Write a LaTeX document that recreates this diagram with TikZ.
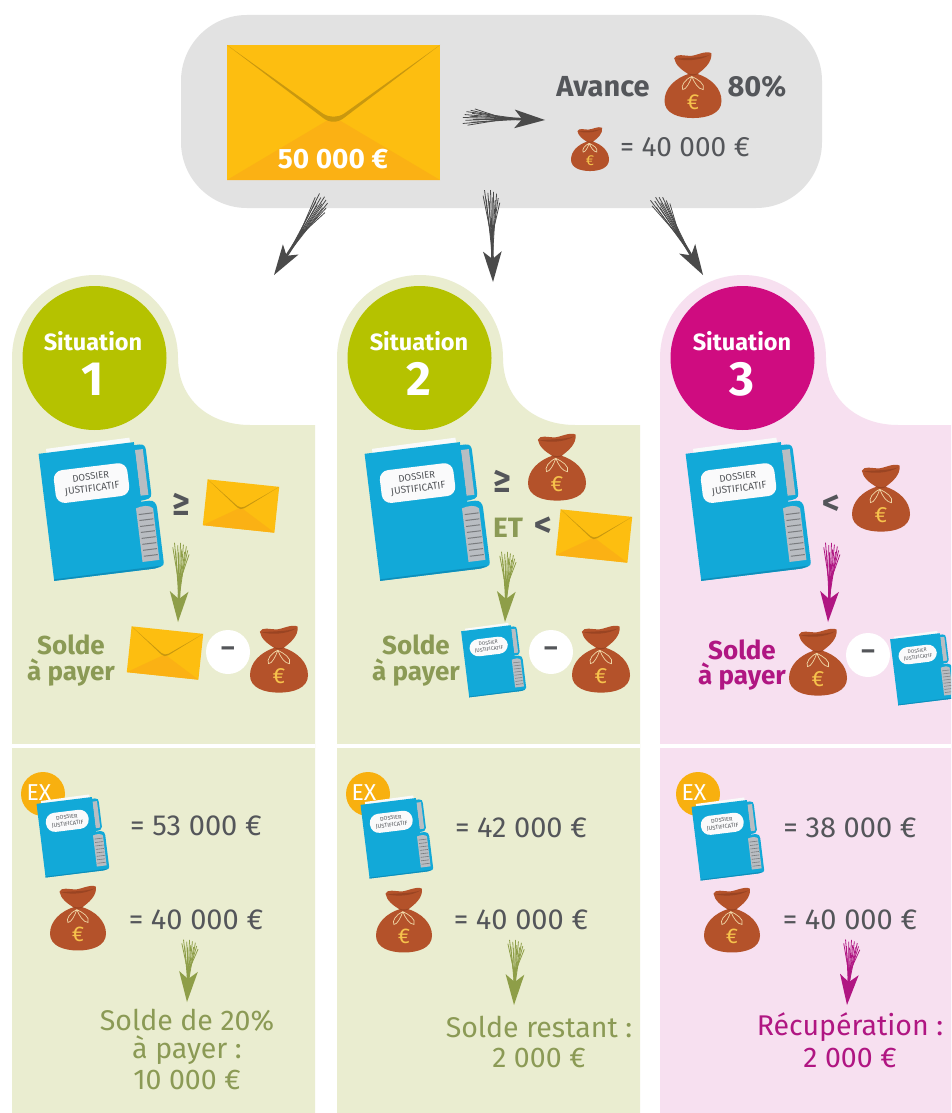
\documentclass[tikz,border=0pt]{standalone}
\usepackage{fontspec}
\setmainfont{Fira Sans}
\usetikzlibrary{calc}
\definecolor{greybox}{HTML}{E2E2E2}
\definecolor{panelgreen}{HTML}{EAEDD0}
\definecolor{panelpink}{HTML}{F7E0F0}
\definecolor{circgreen}{HTML}{B5C200}
\definecolor{circpink}{HTML}{CF0C80}
\definecolor{olive}{HTML}{8B9A55}
\definecolor{olivearrow}{HTML}{8E9E48}
\definecolor{mag}{HTML}{B01682}
\definecolor{inkgrey}{HTML}{54565A}
\definecolor{arrowgrey}{HTML}{4A4A4A}
\definecolor{envbody}{HTML}{FDBE10}
\definecolor{envlow}{HTML}{FBB114}
\definecolor{envline}{HTML}{C9980F}
\definecolor{bagbrown}{HTML}{B4522A}
\definecolor{bagdark}{HTML}{9A4422}
\definecolor{bagcream}{HTML}{EFD6A6}
\definecolor{bageuro}{HTML}{F6C24C}
\definecolor{folderblue}{HTML}{12A9D8}
\definecolor{folderdark}{HTML}{0E8FBB}
\definecolor{pagegrey}{HTML}{B9BDC2}
\definecolor{exorange}{HTML}{F8B00F}
\newcommand{\fs}[1]{\fontsize{#1}{#1}\selectfont}
\newcommand{\scribbleArrow}[3]{%
  \foreach \k/\s/\e in {-8/.06/.55,-6.5/0/.62,-5/.1/.72,-3.2/.03/.6,-2/.12/.78,-.5/0/.66,1/.08/.8,2.5/.02/.7,4/.11/.62,5.5/.04/.72,7/.09/.55,8.5/.14/.5}{%
    \draw[#3,line width=.8pt] ($(#1)!\s!(#2)!\k pt!90:(#2)$) -- ($(#1)!\e!(#2)$);
  }%
  \draw[#3,line width=2.6pt] ($(#1)!.42!(#2)$) -- ($(#2)!12pt!(#1)$);
  \fill[#3] (#2) -- ($(#2)!32pt!17:(#1)$) -- ($(#2)!23pt!(#1)$) -- ($(#2)!32pt!-17:(#1)$) -- cycle;
}
\tikzset{
  x=1pt,y=-1pt,
  head/.style={font=\bfseries\fs{29},text=inkgrey,inner sep=0pt},
  amount/.style={font=\fs{29},text=inkgrey,inner sep=0pt},
  sit/.style={font=\bfseries\fs{23.5},text=white,inner sep=0pt},
  sitnum/.style={font=\bfseries\fs{48},text=white,inner sep=0pt},
  solde/.style={font=\bfseries\fs{26},inner sep=0pt},
  result/.style={font=\fs{28.5},inner sep=0pt},
  relop/.style={font=\bfseries\fs{34},text=inkgrey,inner sep=0pt},
  minuscirc/.style={circle,fill=white,minimum size=44pt,inner sep=0pt,font=\bfseries\fs{26},text=inkgrey},
  exbadge/.style={circle,fill=exorange,minimum size=44pt,inner sep=0pt,text=white,font=\fs{23}},
  sitcirc/.style={circle,minimum size=144pt,inner sep=0pt},
  pics/envelope/.style={code={
    \fill[envbody] (-50,-32) rectangle (50,32);
    \fill[envlow] (-50,32) -- (0,2) -- (50,32) -- cycle;
    \fill[envline] (-50,-32) -- (-5,2.5) .. controls (-2,5) and (2,5) .. (5,2.5) -- (50,-32)
       -- (5,0.5) .. controls (2,2.5) and (-2,2.5) .. (-5,0.5) -- cycle;
  }},
  pics/bag/.style={code={
    \fill[bagbrown] (-6,-20) .. controls (-32,-12) and (-50,6) .. (-50,28)
       .. controls (-50,50) and (-25,58) .. (0,58)
       .. controls (25,58) and (50,50) .. (50,28)
       .. controls (50,6) and (32,-12) .. (6,-20) -- cycle;
    \fill[bagbrown] (-6,-18) .. controls (-20,-26) and (-31,-35) .. (-33,-47)
       .. controls (-30,-56) and (-15,-51) .. (-5,-51)
       .. controls (5,-51) and (22,-61) .. (32,-56)
       .. controls (34,-40) and (20,-28) .. (6,-18) -- cycle;
    \fill[bagdark] (-30,-46) .. controls (-15,-42) and (12,-42) .. (30,-53)
       .. controls (14,-47) and (-14,-48) .. (-30,-46) -- cycle;
    \fill[bagdark] (-10,-21) .. controls (-4,-18) and (4,-18) .. (10,-21)
       .. controls (4,-15) and (-4,-15) .. (-10,-21) -- cycle;
    \draw[bagcream,line width=.7pt] (-2,-15) .. controls (-14,-10) and (-22,2) .. (-18,8)
       .. controls (-12,8) and (-6,-4) .. (-2,-15)
       .. controls (8,-10) and (22,-2) .. (18,8) .. controls (10,8) and (2,-4) .. (-2,-15);
    \node[text=bageuro,font=\fs{38},inner sep=0pt,transform shape] (-euro) at (0,30) {€};
  }},
  pics/folder/.style={code={
    \fill[white!92!pagegrey] (-44,-68) -- (40,-69) -- (48,60) -- (-46,60) -- cycle;
    \fill[folderblue] (42,-61) -- (49,-61) .. controls (54,-61) and (55,-58) .. (55,-54)
       -- (55,-11) .. controls (55,-6) and (51,-5) .. (42,-5) -- cycle;
    \fill[pagegrey] (44,-56) rectangle (52,-10);
    \fill[folderblue] (42,-4) -- (52,-4) .. controls (57,-4) and (59,0) .. (59,4)
       -- (59,59) .. controls (59,63) and (55,64) .. (42,64) -- cycle;
    \fill[folderblue] (-52,-64) -- (44,-64) -- (44,64) -- (-52,64) -- cycle;
    \fill[folderdark] (-52,62.5) -- (56,62) -- (50,64) -- (-52,64) -- cycle;
    \fill[pagegrey] (38,2) .. controls (44,0) and (52,0) .. (55,4) -- (55,56) -- (38,56) -- cycle;
    \foreach \ty in {8,14,20,26,32,38,44,50}{\fill[black!35!pagegrey] (40,\ty) rectangle (54,\ty+1);}
    \fill[white!93!pagegrey,rounded corners=9pt] (-40,-45) rectangle (34,-12);
    \node[text=inkgrey,align=center,inner sep=0pt,transform shape] (-lbl) at (-3,-28.5)
       {\fontsize{9.6}{12}\selectfont DOSSIER\\JUSTIFICATIF};
  }},
  pics/panel/.style={code={
    \fill[#1] (12,1113) -- (12,358) .. controls (12,312) and (49,275) .. (95,275)
       .. controls (141,275) and (178,312) .. (178,358)
       .. controls (178,400) and (210,425) .. (250,425) -- (315,425) -- (315,1113) -- cycle;
    \fill[white] (12,743.5) rectangle (315,747.5);
  }},
}
\begin{document}
\begin{tikzpicture}
\useasboundingbox (0,0) rectangle (951,1113);
\clip (0,0) rectangle (951,1113);
\fill[white] (0,0) rectangle (951,1113);

% top box
\fill[greybox,rounded corners=66pt] (181,15) rectangle (822,208);
\pic (envbig) at (333.5,112.5) [xscale=2.13,yscale=2.11] {envelope};
\node[font=\bfseries\fs{28},text=white,inner sep=0pt] (envval) at (333,159) {50 000 €};
\node[head] (avance) at (603,87) {Avance};
\pic (bagtop) at (693,85) [scale=.57] {bag};
\node[head] (pct) at (757,87) {80\%};
\pic (bagtop2) at (590,149) [scale=.38] {bag};
\node[amount,font=\fs{28}] (valtop) at (685,147) {= 40 000 €};

% panels
\pic (p1) {panel=panelgreen};
\pic (p2) at (325,0) {panel=panelgreen};
\pic (p3) at (648,0) {panel=panelpink};

% situation badges
\node[sitcirc,fill=circgreen] (c1) at (94.5,358) {};
\node[sitcirc,fill=circgreen] (c2) at (419.5,358) {};
\node[sitcirc,fill=circpink] (c3) at (742.5,358) {};
\node[sit] (s1) at (93,341) {Situation};
\node[sitnum] (n1) at (93,379) {1};
\node[sit] (s2) at (419,341) {Situation};
\node[sitnum] (n2) at (419,379) {2};
\node[sit] (s3) at (742,341) {Situation};
\node[sitnum] (n3) at (742,379) {3};

% connectors
\coordinate (ta0) at (463,117); \coordinate (tb0) at (545,120);
\coordinate (ta1) at (325,197); \coordinate (tb1) at (274,275);
\coordinate (ta2) at (491,190); \coordinate (tb2) at (493,282);
\coordinate (ta3) at (656,197); \coordinate (tb3) at (703,275);
\scribbleArrow{ta0}{tb0}{arrowgrey}
\scribbleArrow{ta1}{tb1}{arrowgrey}
\scribbleArrow{ta2}{tb2}{arrowgrey}
\scribbleArrow{ta3}{tb3}{arrowgrey}
\coordinate (ua1) at (181,543); \coordinate (ub1) at (178,622);
\coordinate (ua2) at (508,552); \coordinate (ub2) at (505,622);
\coordinate (ua3) at (832,543); \coordinate (ub3) at (828,622);
\scribbleArrow{ua1}{ub1}{olivearrow}
\scribbleArrow{ua2}{ub2}{olivearrow}
\scribbleArrow{ua3}{ub3}{mag}
\coordinate (va1) at (190,940); \coordinate (vb1) at (187,1002);
\coordinate (va2) at (516,940); \coordinate (vb2) at (514,1005);
\coordinate (va3) at (852,940); \coordinate (vb3) at (847,1005);
\scribbleArrow{va1}{vb1}{olivearrow}
\scribbleArrow{va2}{vb2}{olivearrow}
\scribbleArrow{va3}{vb3}{mag}

% panel 1 upper
\pic (f1) at (98,511) [rotate=7] {folder};
\node[relop] (ge1) at (181,504) {≥};
\pic (e1) at (241,506) [scale=.72,rotate=-6] {envelope};
\node[solde,text=olive] (so1) at (71,645) {Solde};
\node[solde,text=olive] (ap1) at (71,673) {à payer};
\pic (e1b) at (165,653) [scale=.72,rotate=-6] {envelope};
\node[minuscirc] (m1) at (228,652) {\raisebox{-4pt}{–}};
\pic (b1) at (279,659) [scale=.58] {bag};

% panel 2 upper
\pic (f2) at (424,511) [rotate=7] {folder};
\node[relop] (ge2) at (502,481) {≥};
\pic (b2a) at (557,467) [scale=.58] {bag};
\node[solde,text=olive,font=\bfseries\fs{28}] (et2) at (508,528) {ET};
\node[relop] (lt2) at (543,527) {<};
\pic (e2) at (594,536) [scale=.72,rotate=-6] {envelope};
\node[solde,text=olive] (so2) at (416,645) {Solde};
\node[solde,text=olive] (ap2) at (416,673) {à payer};
\pic (f2b) at (492,661) [scale=.52,rotate=7] {folder};
\node[minuscirc] (m2) at (551,652) {\raisebox{-4pt}{–}};
\pic (b2) at (601,659) [scale=.58] {bag};

% panel 3 upper
\pic (f3) at (745,511) [rotate=7] {folder};
\node[relop] (lt3) at (831,505) {<};
\pic (b3a) at (881,498) [scale=.58] {bag};
\node[solde,text=mag] (so3) at (742,650) {Solde};
\node[solde,text=mag] (ap3) at (742,677) {à payer};
\pic (b3) at (818,662) [scale=.58] {bag};
\node[minuscirc] (m3) at (868,655) {\raisebox{-4pt}{–}};
\pic (f3b) at (921,669) [scale=.52,rotate=7] {folder};

% panel 1 lower
\node[exbadge] (x1) at (43,794) {\raisebox{3pt}{\hspace*{-8pt}EX}};
\pic (fx1) at (71,837) [scale=.58,rotate=7] {folder};
\node[amount] (a1) at (196,826) {= 53 000 €};
\pic (bx1) at (78,918) [scale=.56] {bag};
\node[amount] (a1b) at (196,920) {= 40 000 €};
\node[result,text=olive] (r1a) at (187,1020) {Solde de 20\%};
\node[result,text=olive] (r1b) at (187,1050) {à payer :};
\node[result,text=olive] (r1c) at (187,1080) {10 000 €};

% panel 2 lower
\node[exbadge] (x2) at (368,794) {\raisebox{3pt}{\hspace*{-8pt}EX}};
\pic (fx2) at (395,838) [scale=.58,rotate=7] {folder};
\node[amount] (a2) at (521,828) {= 42 000 €};
\pic (bx2) at (404,920) [scale=.56] {bag};
\node[amount] (a2b) at (521,920) {= 40 000 €};
\node[result,text=olive] (r2a) at (539,1027) {Solde restant :};
\node[result,text=olive] (r2b) at (539,1058) {2 000 €};

% panel 3 lower
\node[exbadge] (x3) at (698,794) {\raisebox{3pt}{\hspace*{-8pt}EX}};
\pic (fx3) at (726,840) [scale=.58,rotate=7] {folder};
\node[amount] (a3) at (850,828) {= 38 000 €};
\pic (bx3) at (732,920) [scale=.56] {bag};
\node[amount] (a3b) at (850,920) {= 40 000 €};
\node[result,text=mag] (r3a) at (850,1027) {Récupération :};
\node[result,text=mag] (r3b) at (850,1058) {2 000 €};
\end{tikzpicture}
\end{document}
